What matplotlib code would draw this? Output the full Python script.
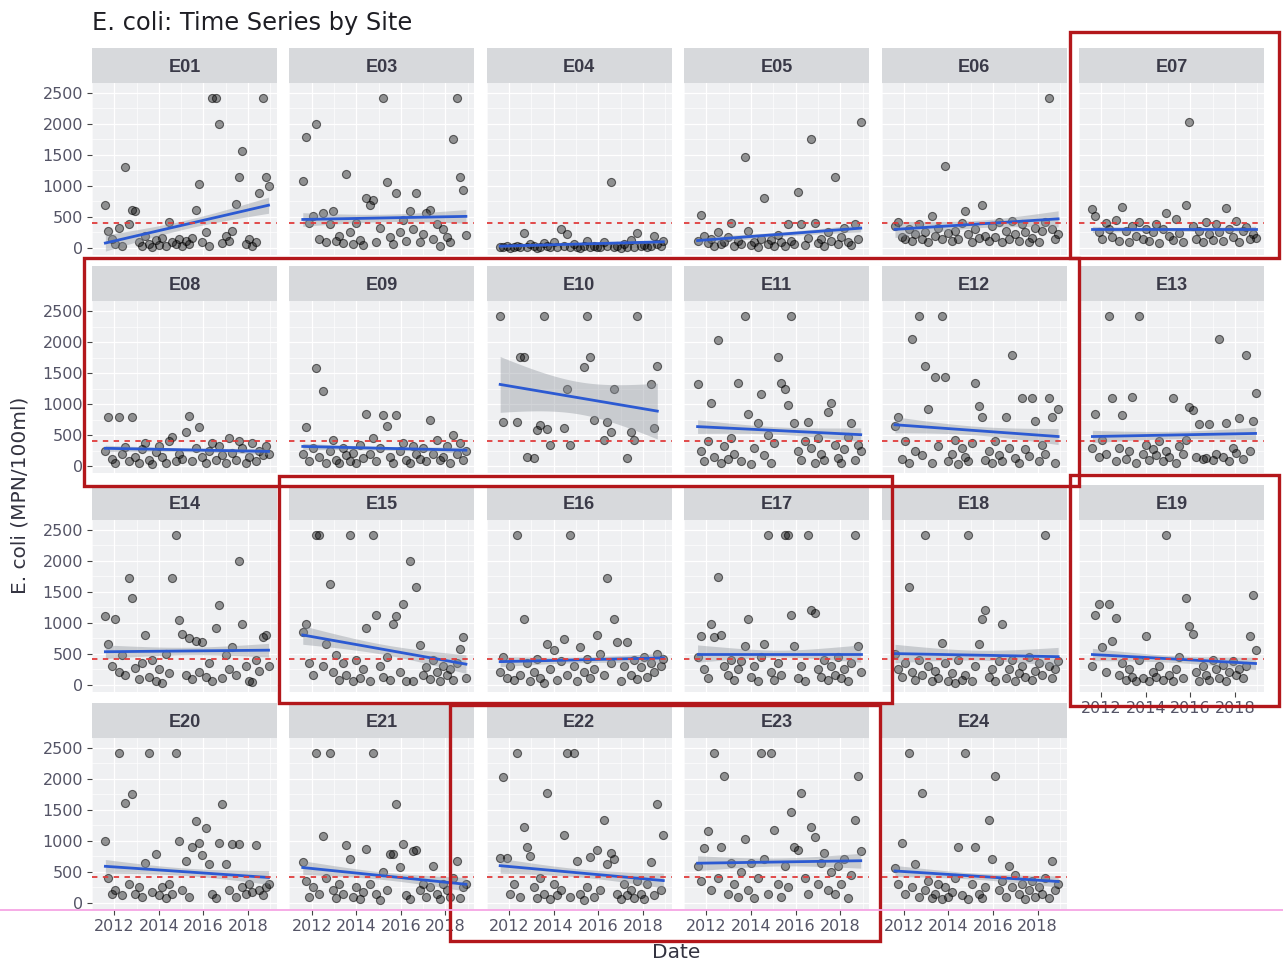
import numpy as np
import matplotlib
matplotlib.use("Agg")
import matplotlib.pyplot as plt
from matplotlib.patches import Rectangle

# sampling dates shared by all sites (decimal years)
sample_year = [2011.60, 2011.74, 2011.90, 2012.05, 2012.21, 2012.35, 2012.50, 2012.66, 2012.80, 2012.95,
               2013.10, 2013.24, 2013.40, 2013.55, 2013.71, 2013.85, 2014.00, 2014.15, 2014.31, 2014.45,
               2014.60, 2014.75, 2014.89, 2015.05, 2015.20, 2015.36, 2015.50, 2015.65, 2015.80, 2015.94,
               2016.10, 2016.25, 2016.40, 2016.56, 2016.70, 2016.85, 2017.00, 2017.15, 2017.29, 2017.45,
               2017.60, 2017.75, 2017.90, 2018.05, 2018.19, 2018.35, 2018.50, 2018.65, 2018.80, 2018.92]

# E. coli (MPN/100ml) per site, one value per sample date (None = not sampled)
e01 = [690, 280, 150, 60, 330, 40, 1300, 380, 620, 600,
       90, 30, 200, 70, 20, 130, 50, 160, 40, 420,
       90, 60, 140, 30, 110, 60, 160, 610, 1040, 90,
       250, 40, 2420, 2420, 2000, 80, 190, 120, 270, 710,
       1140, 1560, 60, 150, 30, 100, 890, 2420, 1140, 1000]
e03 = [1080, 1790, 400, 520, 2000, 150, 560, 90, 380, 600,
       120, 200, 80, 1200, 250, 60, 410, 130, 50, 810,
       690, 780, 100, 330, 2420, 1070, 180, 60, 890, 250,
       450, 120, 600, 300, 890, 90, 220, 560, 610, 150,
       380, 40, 300, 180, 100, 1750, 2420, 1140, 940, 210]
e04 = [20, 10, 30, 5, 15, 40, 20, 240, 10, 60,
       25, 5, 15, 80, 30, 10, 90, 20, 300, 40,
       230, 10, 60, 20, 5, 30, 110, 15, 40, 10,
       20, 90, 30, 1070, 10, 25, 5, 60, 20, 130,
       10, 240, 30, 50, 10, 40, 200, 70, 30, 120]
e05 = [120, 540, 200, 80, 150, 30, 250, 60, 100, 180,
       400, 40, 120, 60, 1460, 280, 50, 90, 20, 150,
       800, 70, 130, 40, 210, 90, 30, 380, 120, 60,
       900, 390, 50, 160, 1760, 410, 80, 140, 30, 250,
       120, 1150, 60, 180, 330, 90, 50, 380, 150, 2030]
e06 = [350, 420, 180, 150, 300, 110, 220, 380, 140, 260,
       90, 510, 200, 330, 150, 1320, 240, 120, 280, 150,
       400, 590, 220, 90, 310, 160, 700, 200, 120, 350,
       180, 420, 90, 270, 150, 440, 230, 120, 380, 250,
       100, 160, 330, 90, 270, 420, 2420, 310, 150, 230]
e07 = [630, 520, 250, 150, 400, 300, 180, 450, 120, 660,
       280, 90, 350, 200, 420, 150, 310, 110, 250, 380,
       80, 300, 560, 200, 130, 470, 240, 100, 700, 2030,
       350, 150, 280, 90, 420, 230, 130, 380, 260, 110,
       640, 300, 180, 440, 100, 270, 340, 150, 230, 160]
e08 = [250, 800, 120, 60, 800, 200, 310, 80, 800, 150,
       60, 280, 380, 100, 30, 230, 330, 150, 60, 400,
       470, 80, 200, 120, 560, 810, 90, 300, 640, 150,
       60, 250, 380, 100, 330, 180, 50, 460, 220, 100,
       400, 290, 60, 150, 380, 90, 250, 180, 320, 200]
e09 = [200, 640, 80, 300, 1580, 150, 1220, 60, 250, 420,
       100, 50, 300, 180, 80, 220, 60, 350, 130, 840,
       200, 460, 90, 300, 820, 650, 150, 60, 820, 250,
       380, 100, 50, 330, 200, 120, 300, 80, 750, 200,
       420, 100, 150, 320, 60, 510, 200, 380, 100, 250]
e10 = [2420, 710, None, None, None, 710, 1770, 1770, 150, None,
       140, 590, 670, 2420, 600, 350, None, None, None, 620,
       1240, 340, None, None, None, 1600, 2420, 1770, 750, None,
       None, 430, 710, 560, 1240, None, None, None, 140, 560,
       420, 2420, None, None, None, 1330, 620, 1610, None, None]
e11 = [1330, 250, 80, 400, 1020, 150, 2040, 60, 320, 120,
       450, 200, 1340, 90, 2420, 850, 30, 300, 700, 1170,
       180, 500, 60, 380, 1770, 1340, 1240, 990, 2420, 700,
       250, 100, 410, 720, 300, 50, 450, 200, 100, 880,
       1020, 350, 130, 60, 280, 480, 700, 100, 350, 250]
e12 = [650, 790, 120, 400, 60, 2050, 250, 2420, 180, 1610,
       930, 60, 1440, 320, 2420, 1440, 90, 200, 420, 40,
       300, 150, 80, 380, 1340, 980, 790, 100, 250, 60,
       400, 180, 90, 790, 300, 1790, 130, 50, 1100, 280,
       160, 1100, 730, 80, 350, 200, 1100, 790, 60, 920]
e13 = [300, 840, 150, 420, 200, 2420, 1100, 80, 300, 830,
       120, 250, 1110, 60, 2420, 200, 350, 100, 280, 180,
       400, 90, 250, 150, 1100, 60, 330, 200, 420, 960,
       900, 150, 680, 120, 130, 680, 100, 200, 2060, 150,
       700, 80, 300, 220, 780, 120, 1790, 250, 730, 1190]
e14 = [1110, 650, 300, 1050, 200, 480, 150, 1720, 1400, 260,
       90, 350, 800, 120, 400, 60, 250, 30, 500, 180,
       1720, 2420, 1040, 820, 150, 750, 90, 700, 200, 680,
       120, 350, 60, 920, 1280, 110, 480, 250, 600, 150,
       1990, 970, 300, 60, 40, 400, 220, 760, 800, 300]
e15 = [850, 980, 350, 150, 2420, 2420, 300, 650, 1620, 200,
       480, 80, 350, 150, 2420, 60, 400, 100, 250, 920,
       50, 2420, 1120, 300, 120, 450, 80, 970, 1110, 200,
       1300, 50, 2000, 60, 1570, 640, 150, 280, 90, 400,
       200, 60, 300, 150, 250, 80, 350, 580, 760, 100]
e16 = [200, 450, 100, 300, 80, 2420, 150, 1050, 350, 60,
       200, 420, 100, 30, 650, 250, 550, 80, 380, 730,
       150, 2420, 300, 60, 600, 200, 420, 100, 250, 800,
       500, 150, 1720, 350, 1050, 680, 60, 300, 680, 150,
       400, 90, 280, 450, 120, 350, 200, 500, 300, 420]
e17 = [450, 790, 250, 100, 980, 760, 1740, 800, 300, 150,
       400, 80, 250, 380, 620, 1050, 120, 300, 60, 450,
       650, 2420, 200, 80, 350, 150, 2420, 2420, 1130, 620,
       100, 300, 60, 2420, 1200, 1160, 250, 120, 400, 80,
       300, 150, 450, 100, 250, 60, 350, 2420, 620, 200]
e18 = [500, 250, 120, 350, 1580, 200, 80, 400, 150, 2420,
       300, 60, 220, 100, 670, 350, 50, 180, 30, 400,
       80, 150, 2420, 50, 300, 650, 1060, 1210, 120, 250,
       60, 380, 980, 100, 250, 400, 60, 180, 300, 120,
       450, 80, 220, 350, 150, 2420, 300, 100, 250, 380]
e19 = [300, 1130, 1300, 600, 200, 1300, 700, 1080, 150, 350,
       80, 250, 120, 60, 400, 100, 780, 50, 200, 120,
       300, 80, 2420, 150, 60, 250, 450, 100, 1390, 940,
       820, 200, 60, 300, 150, 80, 400, 250, 100, 320,
       60, 200, 380, 150, 250, 100, 300, 780, 1450, 560]
e20 = [1000, 400, 150, 200, 2420, 120, 1610, 300, 1760, 150,
       250, 100, 640, 2420, 180, 790, 120, 250, 80, 300,
       150, 2420, 1000, 200, 670, 100, 900, 1320, 960, 780,
       1210, 620, 150, 80, 960, 1590, 620, 200, 950, 100,
       950, 250, 150, 300, 180, 930, 200, 120, 250, 300]
e21 = [660, 350, 100, 250, 2420, 150, 1080, 400, 2420, 200,
       80, 300, 150, 940, 700, 100, 250, 60, 180, 870,
       300, 2420, 150, 50, 500, 200, 790, 790, 1590, 580,
       950, 120, 60, 830, 860, 200, 300, 100, 250, 590,
       150, 60, 300, 200, 100, 400, 670, 80, 250, 300]
e22 = [720, 2030, 720, 150, 300, 2420, 100, 1230, 900, 760,
       250, 80, 400, 150, 1770, 60, 300, 120, 200, 1100,
       2420, 100, 2420, 680, 150, 50, 250, 740, 100, 860,
       200, 1340, 620, 800, 700, 150, 60, 300, 120, 200,
       80, 350, 150, 60, 300, 660, 120, 1600, 200, 1100]
e23 = [600, 350, 880, 1160, 200, 2420, 400, 900, 2040, 150,
       650, 300, 100, 500, 1030, 200, 650, 80, 400, 2420,
       700, 150, 2420, 1180, 300, 100, 600, 250, 1460, 900,
       850, 1780, 400, 150, 1230, 1070, 300, 650, 800, 200,
       500, 150, 600, 300, 700, 80, 450, 1340, 2040, 840]
e24 = [560, 300, 970, 150, 2420, 250, 620, 100, 1770, 200,
       350, 80, 150, 300, 60, 250, 100, 180, 400, 900,
       120, 2420, 60, 300, 900, 150, 80, 250, 1340, 700,
       2040, 200, 350, 100, 600, 250, 450, 150, 300, 60,
       200, 350, 100, 250, 150, 400, 80, 670, 200, 300]

sites = ["E01", "E03", "E04", "E05", "E06", "E07", "E08", "E09", "E10", "E11", "E12", "E13",
         "E14", "E15", "E16", "E17", "E18", "E19", "E20", "E21", "E22", "E23", "E24"]
site_values = [e01, e03, e04, e05, e06, e07, e08, e09, e10, e11, e12, e13,
               e14, e15, e16, e17, e18, e19, e20, e21, e22, e23, e24]

# linear trend (value at first / last sample) and half width of its 95% band
trend_start = [80, 460, 30, 120, 300, 300, 290, 320, 1320, 640, 670, 480,
               530, 800, 370, 500, 500, 485, 590, 570, 600, 640, 515]
trend_end = [690, 510, 100, 320, 470, 300, 240, 260, 890, 510, 480, 530,
             555, 330, 430, 500, 450, 340, 410, 300, 360, 680, 345]
ci_mid = [70, 60, 15, 35, 60, 30, 30, 30, 260, 60, 70, 60,
          60, 80, 45, 55, 80, 55, 60, 60, 65, 65, 50]
ci_end = [130, 110, 25, 60, 130, 50, 50, 50, 450, 110, 130, 100,
          110, 150, 80, 140, 150, 100, 110, 110, 120, 120, 90]

standard = 410
x_breaks = [2012, 2014, 2016, 2018]
x_minor = [2011, 2013, 2015, 2017, 2019]
y_breaks = [0, 500, 1000, 1500, 2000, 2500]
y_minor = [250, 750, 1250, 1750, 2250]

# highlighted groups of sites: (sites, pad left, right, top, bottom in px)
boxes = [(["E07"], 9, 15, 16, 3),
         (["E08", "E09", "E10", "E11", "E12"], 8, 12, 8, 13),
         (["E15", "E16", "E17"], 10, 23, 9, 11),
         (["E19"], 9, 15, 10, 14),
         (["E22", "E23"], 37, 11, -2, 31)]

W, H = 1283, 965
plt.rcParams['font.family'] = ['DejaVu Sans']
fig = plt.figure(figsize=(W / 100, H / 100), dpi=100)

ncol = 6
col_left0, col_pitch, panel_w = 92, 197.4, 185
row_top0, row_pitch, panel_h, strip_h = 83, 218.3, 172, 35
tick_col = '#545466'


def panel_px(k):
    "left, top of the panel area of site k, in pixels"
    r, c = divmod(k, ncol)
    return col_left0 + c * col_pitch, row_top0 + r * row_pitch


def frac(left, top, w, h):
    return [left / W, 1 - (top + h) / H, w / W, h / H]


years = np.array(sample_year)

for k, name in enumerate(sites):
    left, top = panel_px(k)
    col = k % ncol
    ax = fig.add_axes(frac(left, top, panel_w, panel_h))
    ax.set_facecolor('#EFF0F2')
    ax.set_xlim(2011.3, 2019.3)
    ax.set_ylim(-113, 2661)
    ax.set_xticks(x_breaks)
    ax.set_xticks(x_minor, minor=True)
    ax.set_yticks(y_breaks)
    ax.set_yticks(y_minor, minor=True)
    ax.grid(which='major', color='white', lw=0.9)
    ax.grid(which='minor', color='white', lw=0.45)
    ax.set_axisbelow(True)
    for sp in ax.spines.values():
        sp.set_visible(False)
    ax.tick_params(which='minor', length=0)
    ax.tick_params(which='major', length=3.5, width=0.8, color='#444444', pad=3,
                   labelsize=11.5, labelcolor=tick_col)

    # axis labels only on the outer panels, like facet_wrap
    if col != 0:
        ax.tick_params(axis='y', length=0, labelleft=False)
    if k + ncol < len(sites):
        ax.tick_params(axis='x', length=0, labelbottom=False)

    vals = np.array([np.nan if v is None else v for v in site_values[k]], dtype=float)
    ok = ~np.isnan(vals)
    ax.scatter(years[ok], vals[ok], s=34, facecolor=(0, 0, 0, 0.4),
               edgecolor=(0, 0, 0, 0.55), linewidth=0.8, zorder=2)

    # trend line with its confidence band
    x0, x1 = years[ok].min(), years[ok].max()
    xs = np.linspace(x0, x1, 60)
    u = (xs - (x0 + x1) / 2) / ((x1 - x0) / 2)
    fit = trend_start[k] + (trend_end[k] - trend_start[k]) * (xs - x0) / (x1 - x0)
    hw = np.sqrt(ci_mid[k] ** 2 + (ci_end[k] ** 2 - ci_mid[k] ** 2) * u ** 2)
    ax.fill_between(xs, fit - hw, fit + hw, color='#8E949C', alpha=0.4, lw=0, zorder=3)
    ax.plot(xs, fit, color='#2C5AD2', lw=2.0, zorder=4)

    ax.axhline(standard, color='#E03C3C', lw=1.3, ls=(0, (3, 3)), zorder=5)

    # strip with the site name
    sax = fig.add_axes(frac(left, top - strip_h, panel_w, strip_h))
    sax.set_facecolor('#D7D9DC')
    sax.set_xticks([])
    sax.set_yticks([])
    for sp in sax.spines.values():
        sp.set_visible(False)
    sax.text(0.5, 0.44, name, ha='center', va='center', fontsize=13, fontweight='bold',
             family='Liberation Sans', color='#3A3A48', transform=sax.transAxes)

# overlay in pixel coordinates for the hand drawn boxes
over = fig.add_axes([0, 0, 1, 1], zorder=10)
over.set_xlim(0, W)
over.set_ylim(H, 0)
over.axis('off')
over.patch.set_alpha(0)

# scanner line along the bottom row
bottom_row = (len(sites) - 1) // ncol
over.axhline(row_top0 + bottom_row * row_pitch + panel_h, color='#F6A5E4', lw=1.3)

for group, pl, pr, pt, pb in boxes:
    idx = [sites.index(s) for s in group]
    lefts = [panel_px(i)[0] for i in idx]
    tops = [panel_px(i)[1] for i in idx]
    l = min(lefts) - pl
    r = max(lefts) + panel_w + pr
    t = min(tops) - strip_h - pt
    b = max(tops) + panel_h + pb
    over.add_patch(Rectangle((l, t), r - l, b - t, fill=False, ec='#B3171B', lw=2.4))

fig.text(92 / W, 1 - 23 / H, "E. coli: Time Series by Site", fontsize=17.4, color='#1E1E24',
         ha='left', va='center')
fig.text(20 / W, 1 - 495 / H, "E. coli (MPN/100ml)", fontsize=14.5, color='#333340',
         rotation=90, ha='center', va='center')
fig.text(676 / W, 1 - 953 / H, "Date", fontsize=14.5, color='#333340', ha='center', va='center')

fig.savefig('out.png', dpi=100)
